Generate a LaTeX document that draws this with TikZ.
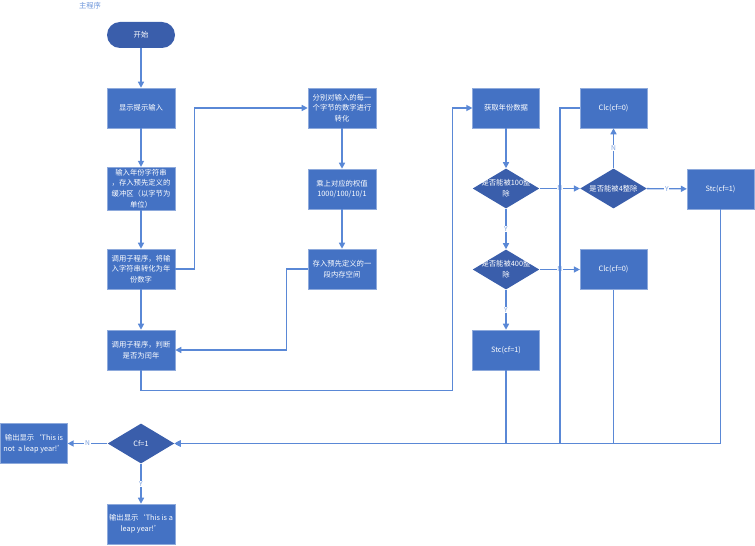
\documentclass[tikz,border=0pt]{standalone}
\usepackage{fontspec}
\setmainfont{Noto Sans CJK SC}
\usetikzlibrary{shapes.geometric,arrows.meta}
\definecolor{boxblue}{HTML}{4472C4}
\definecolor{darkblue}{HTML}{3A5EAB}
\definecolor{lineblue}{HTML}{5A88D6}
\definecolor{lightblue}{HTML}{8EAADC}

\begin{document}
\begin{tikzpicture}[x=0.75pt,y=-0.75pt,
	box/.style={rectangle, fill=boxblue, draw=lightblue, line width=0.4pt, minimum width=51pt, minimum height=30pt, inner sep=1pt, text=white, align=center, font=\fontsize{5.5}{8}\selectfont},
	dia/.style={diamond, fill=darkblue, minimum width=50pt, minimum height=30pt, inner sep=0pt},
	dtext/.style={text=white, align=center, font=\fontsize{5.5}{8}\selectfont},
	line/.style={draw=lineblue, line width=1pt},
	arr/.style={line, -{Triangle[length=4.5pt,width=4.5pt]}},
	lbl/.style={text=lineblue!80, fill=white, inner sep=0.6pt, font=\fontsize{5}{6}\selectfont}]
	\useasboundingbox (0,0) rectangle (755,545);
	\node [text=lineblue!90, font=\fontsize{5.5}{6}\selectfont] (title) at (90,6) {主程序};
	% first column
	\node [box, fill=darkblue, draw=none, rounded corners=9.75pt, minimum height=19.5pt] (start) at (141,35) {开始};
	\node [box] (show) at (141,108) {显示提示输入};
	\node [box, minimum height=32pt] (input) at (141,188.5) {输入年份字符串\\，存入预先定义的\\缓冲区（以字节为\\单位）};
	\node [box] (conv) at (141,269) {调用子程序，将输\\入字符串转化为年\\份数字};
	\node [box] (judge) at (141,350) {调用子程序，判断\\是否为闰年};
	% second column
	\node [box] (split) at (342,108) {分别对输入的每一\\个字节的数字进行\\转化};
	\node [box] (weight) at (342,189) {乘上对应的权值\\1000/100/10/1};
	\node [box] (store) at (342,269) {存入预先定义的一\\段内存空间};
	% leap year check
	\node [box, minimum width=50pt] (getyear) at (506,108) {获取年份数据};
	\node [dia, label={[dtext]center:是否能被100整\\除}] (d100) at (506,188.5) {};
	\node [dia, label={[dtext]center:是否能被400整\\除}] (d400) at (506,269.5) {};
	\node [box, minimum width=50pt] (stcL) at (506,350) {Stc(cf=1)};
	\node [box, minimum width=50pt] (clcT) at (613.5,108) {Clc(cf=0)};
	\node [dia, label={[dtext]center:是否能被4整除}] (d4) at (613.5,188.5) {};
	\node [box, minimum width=50pt] (clcB) at (613.5,269.5) {Clc(cf=0)};
	\node [box, minimum width=50pt] (stcR) at (720.5,189) {Stc(cf=1)};
	% output
	\node [dia] (cf) at (141,443.5) {};
	\node [dtext] (cftext) at (cf) {Cf=1};
	\node [box, minimum width=50pt] (notleap) at (34,443.5) {输出显示‘This is\\not~ a leap year!’};
	\node [box] (leap) at (141,524) {输出显示‘This is a\\leap year!’};

	\draw [arr] (start) -- (show);
	\draw [arr] (show) -- (input);
	\draw [arr] (input) -- (conv);
	\draw [arr] (conv) -- (judge);
	\draw [arr] (conv.east) -- ++(19,0) |- (split);
	\draw [arr] (split) -- (weight);
	\draw [arr] (weight) -- (store);
	\draw [arr] (store.west) -- ++(-21,0) |- (judge);
	\draw [arr] (judge.south) -- ++(0,20) -| ([xshift=-15pt]getyear.west) -- (getyear);
	\draw [arr] (getyear) -- (d100);
	\draw [arr] (d100) -- (d400) node [midway, lbl] {Y};
	\draw [arr] (d400) -- (stcL) node [midway, lbl] {Y};
	\draw [arr] (d100) -- (d4) node [midway, lbl] {N};
	\draw [arr] (d400) -- (clcB) node [midway, lbl] {N};
	\draw [arr] (d4) -- (clcT) node [midway, lbl] {N};
	\draw [arr] (d4) -- (stcR) node [midway, lbl] {Y};
	\draw [arr] (clcT.west) -- ++(-20,0) |- (cf);
	\draw [arr] (stcL) |- (cf);
	\draw [arr] (clcB) |- (cf);
	\draw [arr] (stcR) |- (cf);
	\draw [arr] (cf) -- (notleap) node [midway, lbl] {N};
	\draw [arr] (cf) -- (leap) node [midway, lbl] {Y};
\end{tikzpicture}
\end{document}
